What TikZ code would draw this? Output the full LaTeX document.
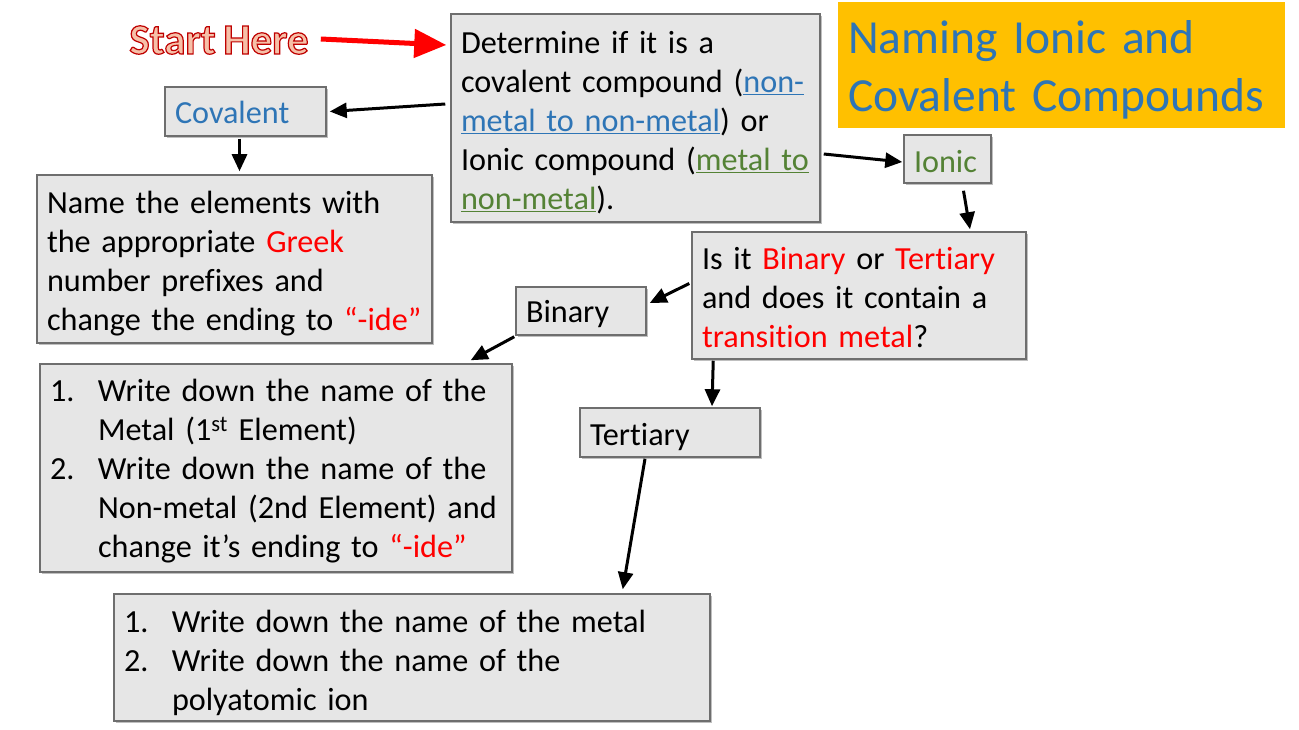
\documentclass[tikz,border=0pt]{standalone}
\usepackage{fontspec}
\setmainfont{Carlito}[Ligatures=NoCommon,WordSpace=0.8]
\usetikzlibrary{arrows.meta,shadows}
\definecolor{boxfill}{HTML}{E6E6E6}
\definecolor{boxline}{HTML}{6E6E6E}
\definecolor{ttlblue}{HTML}{2E75B6}
\definecolor{ionicgreen}{HTML}{548235}
\definecolor{titlebg}{HTML}{FFC000}
\definecolor{startfill}{HTML}{F6C0A8}
\definecolor{myred}{HTML}{FF0000}
\newcommand\bodyfont{\fontsize{32.2}{39}\selectfont}
\newcommand\rd[1]{{\color{myred}#1}}
\newcommand\ind{\hspace*{48pt}}
\newcommand\num[1]{\makebox[48pt][l]{#1}}
\newcommand\topstrut[1]{\rule{0pt}{#1}}
\tikzset{
  box/.style={draw=boxline, line width=1.5pt, fill=boxfill, rectangle,
    inner xsep=10pt, inner ysep=4pt, align=left, font=\bodyfont,
    drop shadow={shadow xshift=2pt,shadow yshift=-2pt,opacity=0.25,fill=black}},
  arr/.style={line width=3pt, -{Triangle[length=17pt,width=15pt]}},
  redarr/.style={line width=5pt, myred, -{Triangle[length=32pt,width=28pt]}}
}
\begin{document}
\begin{tikzpicture}[x=1pt,y=-1pt]
\useasboundingbox (0,0) rectangle (1299,730);
% title
\node[fill=titlebg, minimum width=447pt, minimum height=126pt, text width=427pt,
  inner xsep=10pt, inner ysep=2pt, align=left, font=\fontsize{47.5}{58}\selectfont, text=ttlblue]
  (title) at (1061.5,65) {\topstrut{42pt}Naming Ionic and\\Covalent Compounds};
% start here
\node[inner sep=0pt, font=\fontsize{43}{50}\selectfont\bfseries] (start) at (219,40)
  {{\color{startfill}\special{pdf:literal direct 0.75 0 0 RG 1.2 w 2 Tr}Start Here\special{pdf:literal direct 0 Tr}}};
% boxes
\node[box, minimum width=367pt, minimum height=208pt, text width=349pt] (det) at (635.5,118)
  {\topstrut{31pt}Determine if it is a\\
   covalent compound ({\color{ttlblue}\underline{non-}}\\
   {\color{ttlblue}\underline{metal to non-metal}}) or\\
   Ionic compound ({\color{ionicgreen}\underline{metal to}}\\
   {\color{ionicgreen}\underline{non-metal}}).};
\node[box, minimum width=161pt, minimum height=49pt, text width=141pt, text=ttlblue] (cov) at (245.5,111.5) {\topstrut{24pt}Covalent};
\node[box, minimum width=87pt, minimum height=48pt, text width=67pt, text=ionicgreen] (ionic) at (947.5,159) {\topstrut{27pt}Ionic};
\node[box, minimum width=393pt, minimum height=168pt, text width=375pt] (name) at (234.5,259)
  {\topstrut{31pt}Name the elements with\\
   the appropriate \rd{Greek}\\
   number prefixes and\\
   change the ending to \rd{“-ide”}};
\node[box, minimum width=334pt, minimum height=127pt, text width=314pt] (q) at (859,295.5)
  {\topstrut{27pt}Is it \rd{Binary} or \rd{Tertiary}\\
   and does it contain a\\
   \rd{transition metal}?};
\node[box, minimum width=130pt, minimum height=48pt, text width=110pt] (bin) at (581,311) {\topstrut{29pt}Binary};
\node[box, minimum width=472pt, minimum height=208pt, text width=452pt] (binlist) at (276,468)
  {\topstrut{28pt}\num{1.}Write down the name of the\\
   \ind Metal (1\textsuperscript{st} Element)\\
   \num{2.}Write down the name of the\\
   \ind Non-metal (2nd Element) and\\
   \ind change it’s ending to \rd{“-ide”}};
\node[box, minimum width=180pt, minimum height=49pt, text width=160pt] (ter) at (670,432.5) {\topstrut{31pt}Tertiary};
\node[box, minimum width=596pt, minimum height=127pt, text width=576pt] (terlist) at (412,657.5)
  {\topstrut{33pt}\num{1.}Write down the name of the metal\\
   \num{2.}Write down the name of the\\
   \ind polyatomic ion};
% arrows
\draw[redarr] ([xshift=12pt,yshift=1pt]start.east) -- ([xshift=-4pt,yshift=73pt]det.west);
\draw[arr] ([xshift=-5pt,yshift=14pt]det.west) -- ([xshift=3pt]cov.east);
\draw[arr] ([xshift=3pt,yshift=-36pt]det.east) -- ([xshift=-1pt,yshift=-3pt]ionic.west);
\draw[arr] ([xshift=-6pt,yshift=-2pt]cov.south) -- ([xshift=5pt,yshift=3pt]name.north);
\draw[arr] ([xshift=16pt,yshift=-7pt]ionic.south) -- ([xshift=111pt,yshift=2pt]q.north);
\draw[arr] ([xshift=-2pt,yshift=12pt]q.west) -- ([xshift=3pt,yshift=8pt]bin.east);
\draw[arr] ([xshift=-1pt,yshift=-1pt]bin.south west) -- ([xshift=-42pt,yshift=3pt]binlist.north east);
\draw[arr] ([xshift=22pt,yshift=-1pt]q.south west) -- ([xshift=42pt,yshift=1pt]ter.north);
\draw[arr] ([xshift=-25pt,yshift=-1pt]ter.south) -- ([xshift=-88pt,yshift=4pt]terlist.north east);
\end{tikzpicture}
\end{document}
